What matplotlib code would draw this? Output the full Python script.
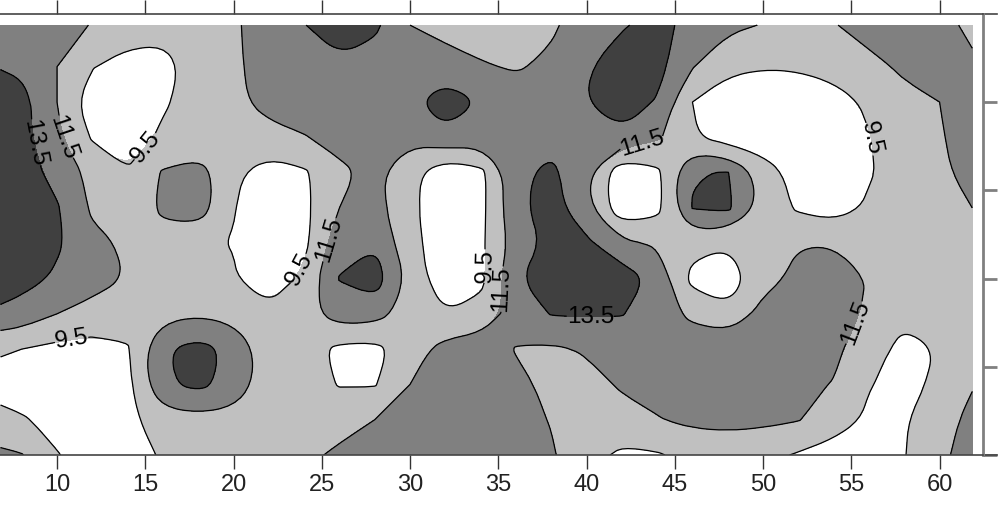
import numpy as np
import matplotlib
matplotlib.use("Agg")
import matplotlib.pyplot as plt
from matplotlib.path import Path

plt.rcParams['font.family'] = ['Liberation Sans', 'DejaVu Sans']

# grid positions
x_grid = [6.8, 8, 10, 12, 14, 16, 18, 20, 22, 24, 26, 28, 30, 32, 34, 36, 38, 40, 42, 44,
          46, 48, 50, 52, 54, 56, 58, 60, 61.85]
y_grid = [0, 2, 4, 6, 8, 10, 12, 14, 16, 18, 20, 22, 24.36]

# values per row, bottom row first
row_00 = [11.9, 11.6, 9.6, 8.6, 8.7, 9.7, 10.2, 10.4, 10.6, 11.0, 11.9, 12.2, 12.3, 12.4, 12.4, 12.1, 11.7, 10.3, 9.1, 9.3, 10.2, 10.4, 10.1, 9.3, 8.7, 8.8, 9.4, 11.45, 11.6]
row_02 = [10.0, 9.7, 8.9, 8.6, 9.0, 10.5, 10.9, 10.7, 10.4, 10.3, 10.7, 11.5, 12.1, 12.4, 12.5, 12.2, 11.4, 10.8, 10.9, 11.4, 11.9, 12.0, 11.9, 11.6, 10.4, 9.2, 9.3, 10.9, 11.9]
row_04 = [8.8, 8.5, 8.3, 8.3, 9.0, 13.2, 14.0, 12.8, 10.3, 10.2, 9.4, 9.35, 11.5, 12.3, 12.5, 11.9, 11.1, 10.9, 11.7, 12.1, 12.3, 12.4, 12.3, 12.0, 11.4, 9.6, 8.9, 9.9, 11.4]
row_06 = [9.7, 9.5, 9.0, 8.8, 9.3, 13.3, 14.2, 13.0, 10.3, 10.4, 9.0, 8.9, 10.6, 12.2, 12.6, 11.4, 11.2, 11.7, 12.0, 12.5, 12.8, 13.3, 12.9, 12.6, 12.0, 10.2, 9.0, 9.6, 10.4]
row_08 = [13.1, 12.7, 11.5, 10.8, 10.4, 10.8, 11.3, 10.8, 10.2, 10.7, 12.5, 12.3, 10.6, 9.6, 10.3, 12.4, 13.6, 13.7, 13.6, 12.6, 11.0, 10.0, 12.2, 12.7, 12.4, 11.2, 9.9, 9.9, 10.0]
row_10 = [14.6, 14.2, 13.2, 12.3, 11.4, 10.8, 10.2, 9.7, 8.0, 10.0, 13.6, 14.6, 10.9, 8.0, 8.9, 13.3, 14.6, 14.5, 14.6, 12.9, 8.9, 8.4, 10.7, 12.1, 12.4, 11.4, 10.7, 10.2, 10.0]
row_12 = [15.1, 14.9, 13.8, 12.0, 11.2, 10.9, 9.9, 9.4, 8.2, 9.0, 12.8, 13.3, 10.1, 8.4, 9.1, 12.4, 14.0, 13.9, 12.0, 11.2, 10.1, 9.7, 10.6, 11.4, 11.4, 10.7, 10.3, 10.0, 10.0]
row_14 = [15.0, 14.8, 13.7, 11.2, 10.4, 11.8, 12.6, 9.6, 8.2, 9.0, 11.5, 12.2, 10.0, 8.0, 8.9, 13.0, 14.4, 12.0, 8.0, 8.9, 13.6, 13.9, 10.8, 9.2, 8.6, 9.8, 10.4, 10.9, 11.5]
row_16 = [14.8, 14.5, 12.8, 10.9, 9.7, 11.7, 12.4, 9.9, 8.5, 9.2, 11.1, 12.0, 10.2, 8.0, 8.9, 13.0, 14.0, 11.9, 8.0, 9.0, 13.4, 13.6, 10.6, 8.6, 8.0, 9.3, 10.6, 11.2, 12.0]
row_18 = [14.6, 14.2, 11.9, 9.3, 8.4, 9.9, 9.8, 10.8, 11.1, 11.4, 12.1, 12.2, 12.0, 13.0, 12.6, 12.5, 12.7, 12.5, 13.0, 11.8, 9.7, 8.6, 8.2, 8.2, 8.2, 9.4, 10.8, 11.4, 12.0]
row_20 = [14.6, 14.2, 11.5, 8.2, 8.3, 9.2, 10.5, 11.2, 11.9, 12.4, 12.7, 12.9, 13.0, 14.6, 13.4, 12.7, 12.7, 13.5, 14.8, 13.3, 9.5, 8.5, 8.3, 8.3, 8.6, 9.9, 11.0, 11.5, 12.0]
row_22 = [13.4, 13.1, 11.5, 9.6, 8.7, 8.7, 10.6, 11.3, 12.0, 12.5, 12.8, 12.6, 12.2, 12.4, 11.7, 11.3, 11.9, 13.3, 14.6, 14.2, 11.6, 9.9, 9.6, 9.7, 10.3, 11.0, 11.8, 12.4, 11.9]
row_24 = [12.5, 12.5, 12.3, 11.4, 10.6, 10.3, 10.6, 11.3, 12.2, 13.4, 15.2, 13.9, 11.5, 10.8, 10.5, 10.5, 11.2, 12.5, 13.3, 14.2, 12.8, 12.0, 11.4, 10.8, 11.4, 12.2, 12.5, 12.2, 11.0]

levels = [7, 9.5, 11.5, 13.5, 16]
fill_colors = ['#ffffff', '#c0c0c0', '#808080', '#404040']
label_levels = [9.5, 11.5, 13.5]
# (x, y) where each contour label sits
label_spots = [(15.1, 17.4), (10.0, 17.8), (8.7, 17.7), (23.6, 10.6), (25.7, 12.1),
               (10.8, 6.7), (34.3, 10.7), (35.3, 9.4), (40.2, 8.1), (43.2, 17.4),
               (55.9, 17.9), (55.2, 7.5)]

z = np.array([row_00, row_02, row_04, row_06, row_08, row_10, row_12, row_14, row_16,
              row_18, row_20, row_22, row_24])


def on_edge(p):
    return (abs(p[0] - x_grid[0]) < 1e-9 or abs(p[0] - x_grid[-1]) < 1e-9
            or abs(p[1] - y_grid[0]) < 1e-9 or abs(p[1] - y_grid[-1]) < 1e-9)


def round_path(path):
    """Draw the contour polygon with curved corners instead of straight pieces."""
    if len(path.vertices) == 0:
        return path
    verts = path.vertices
    codes = path.codes
    if codes is None:
        codes = np.full(len(verts), Path.LINETO)
        codes[0] = Path.MOVETO
    starts = list(np.where(codes == Path.MOVETO)[0]) + [len(verts)]
    new_v = []
    new_c = []
    for s, e in zip(starts[:-1], starts[1:]):
        v = verts[s:e]
        closed = codes[e - 1] == Path.CLOSEPOLY
        if closed:
            v = v[:-1]
            if len(v) > 1 and np.allclose(v[0], v[-1]):
                v = v[:-1]
        n = len(v)
        if n < 3:
            new_v.extend(v)
            new_c.extend([Path.MOVETO] + [Path.LINETO] * (n - 1))
            continue
        if closed:
            new_v.append((v[-1] + v[0]) / 2)
            new_c.append(Path.MOVETO)
            for i in range(n):
                m = (v[i] + v[(i + 1) % n]) / 2
                if on_edge(v[i]):
                    new_v.extend([v[i], m])
                    new_c.extend([Path.LINETO, Path.LINETO])
                else:
                    new_v.extend([v[i], m])
                    new_c.extend([Path.CURVE3, Path.CURVE3])
            new_v.append(new_v[-1])
            new_c.append(Path.CLOSEPOLY)
        else:
            new_v.extend([v[0], (v[0] + v[1]) / 2])
            new_c.extend([Path.MOVETO, Path.LINETO])
            for i in range(1, n - 1):
                new_v.extend([v[i], (v[i] + v[i + 1]) / 2])
                new_c.extend([Path.CURVE3, Path.CURVE3])
            new_v.append(v[-1])
            new_c.append(Path.LINETO)
    return Path(np.array(new_v), new_c)


def main():
    fig = plt.figure(figsize=(10, 5.25), dpi=100)
    ax = fig.add_axes([0, (525 - 455) / 525, 983 / 1000, (455 - 14) / 525])

    filled = ax.contourf(x_grid, y_grid, z, levels=levels, colors=fill_colors)
    cs = ax.contour(x_grid, y_grid, z, levels=label_levels, colors='black', linewidths=0.9)

    ax.set_xlim(6.77, 62.46)
    ax.set_ylim(0, 24.99)
    ax.clabel(cs, fmt='%.1f', fontsize=17.5, manual=label_spots, inline=True, inline_spacing=0)

    filled.set_paths([round_path(p) for p in filled.get_paths()])
    cs.set_paths([round_path(p) for p in cs.get_paths()])

    ax.set_xticks(np.arange(10, 65, 5))
    ax.tick_params(axis='x', which='both', top=True, bottom=True, length=10, width=1,
                   color='#333333', labelsize=17, labelcolor='#222222', pad=4)
    ax.set_yticks(np.arange(0, 25, 5))
    ax.tick_params(axis='y', left=False, right=True, labelleft=False, length=10, width=2,
                   color='#808080')
    ax.spines['left'].set_visible(False)
    for side in ['top', 'bottom']:
        ax.spines[side].set_color('#444444')
        ax.spines[side].set_linewidth(1.2)
    ax.spines['right'].set_color('#808080')
    ax.spines['right'].set_linewidth(2)

    # the frame lines run a little past the right spine
    for y in [0, 24.99]:
        ax.plot([62.46, 63.25], [y, y], color='#444444', lw=1.2, clip_on=False)
    ax.set_xlim(6.77, 62.46)
    ax.set_ylim(0, 24.99)

    fig.savefig("out.png", dpi=100)
    plt.close(fig)


if __name__ == '__main__':
    main()
